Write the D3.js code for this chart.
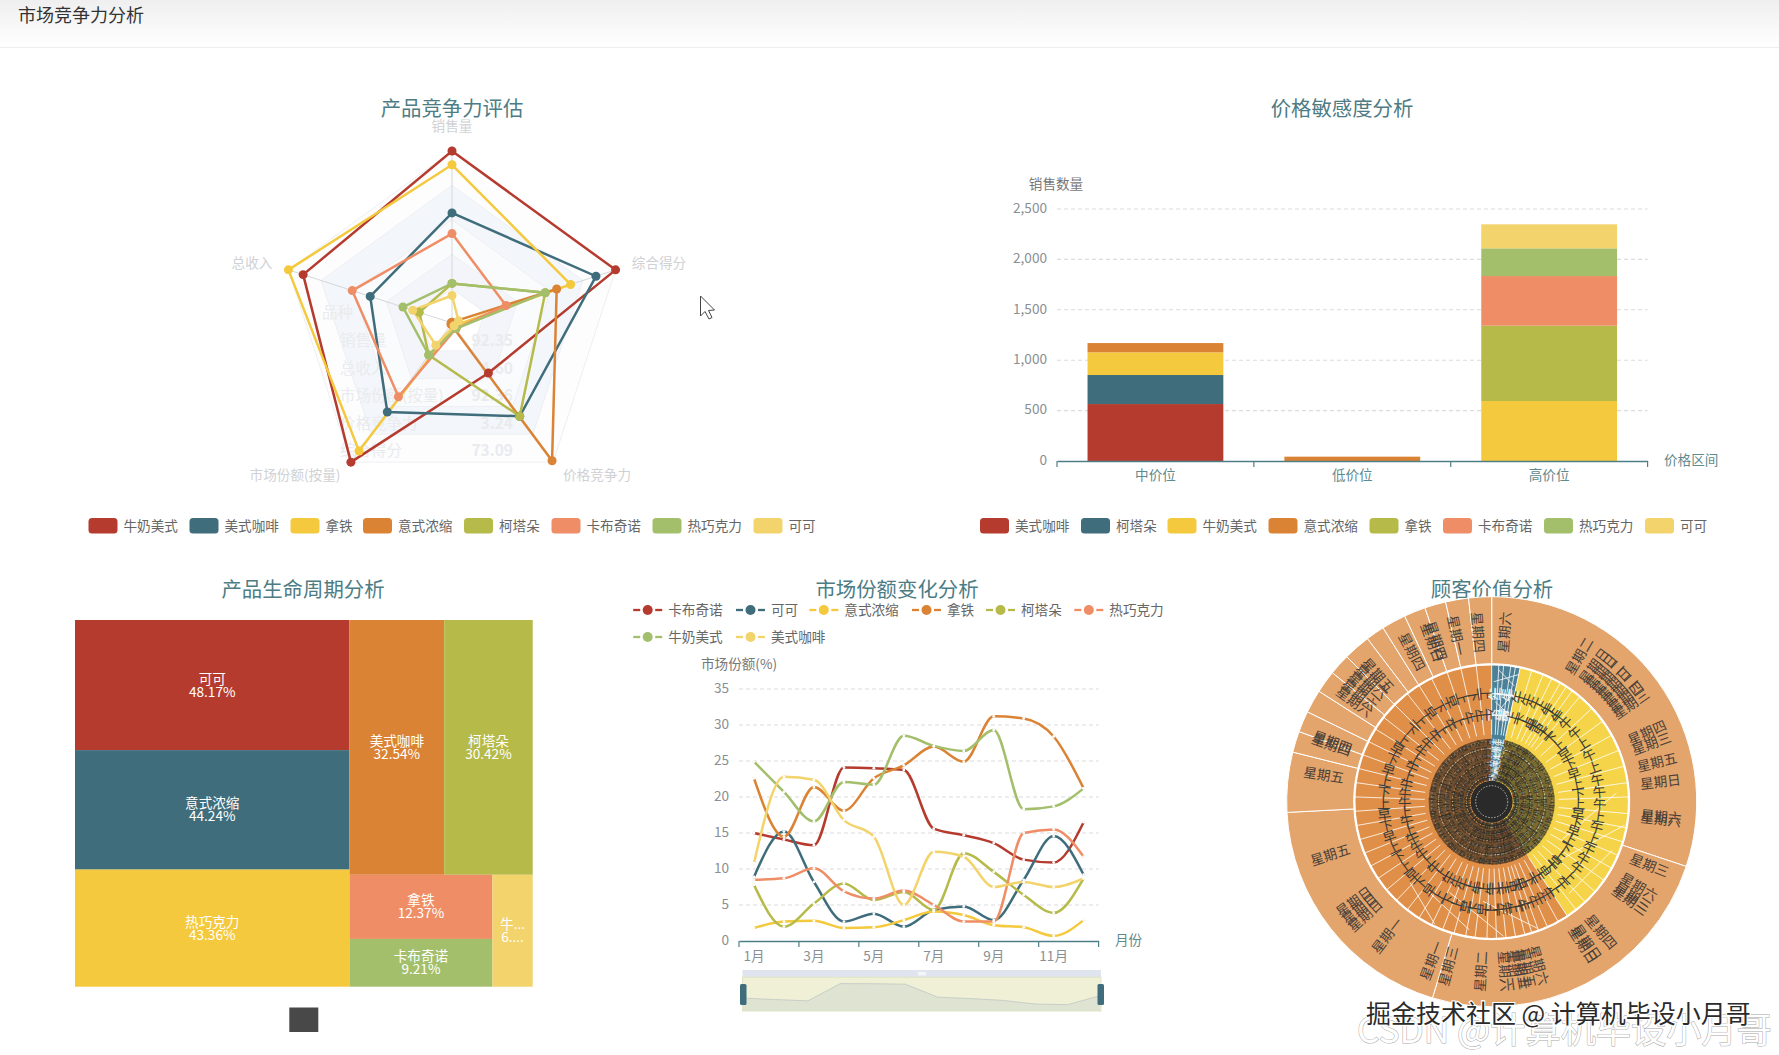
<!DOCTYPE html>
<html><head><meta charset="utf-8">
<script src="https://cdn.jsdelivr.net/npm/d3@7/dist/d3.min.js"></script>
<style>
html,body{margin:0;padding:0;background:#fff;overflow:hidden}
svg{display:block;font-family:"Noto Sans CJK SC","Noto Sans",sans-serif}
text{dominant-baseline:central}
</style></head><body><svg id="c" width="1779" height="1055"></svg>
<script>
// ---------- palette
const palette = ["#b53b2e","#3f6d7b","#f4c93d","#db8334","#b5ba49","#ef8e66","#a4bf6b","#f3d36b"];
// ---------- radar
const radarAxes = ["销售量","综合得分","价格竞争力","市场份额(按量)","总收入"];
const radarNames = ["牛奶美式","美式咖啡","拿铁","意式浓缩","柯塔朵","卡布奇诺","热巧克力","可可"];
const radarMilk = [100,100,36,100,91];
const radarAmericano = [64,88,67,64,50];
const radarLatte = [92,72.5,2,92,100];
const radarEspresso = [0.5,64,99,1,0.5];
const radarCortado = [23,57,67,23,20];
const radarCappuccino = [52,33,4,53,61];
const radarChocolate = [23,57,4,23,30];
const radarCocoa = [16,4,2,16,24];
const radarGhostKeys = ["销售量","总收入","市场份额(按量)","价格竞争力","综合得分"];
const radarGhostVals = ["92.35","4.60","92.36","3.24","73.09"];
// ---------- stacked bar
const barCats = ["中价位","低价位","高价位"];
const barNames = ["美式咖啡","柯塔朵","牛奶美式","意式浓缩","拿铁","卡布奇诺","热巧克力","可可"];
const barAmericano = [565,0,0];
const barCortado = [288,0,0];
const barMilk = [225,0,595];
const barEspresso = [92,43,0];
const barLatte = [0,0,747];
const barCappuccino = [0,0,493];
const barChocolate = [0,0,275];
const barCocoa = [0,0,238];
// ---------- treemap
const treeNames = ["可可","意式浓缩","热巧克力","美式咖啡","柯塔朵","拿铁","卡布奇诺","牛奶美式"];
const treeValues = [48.17,44.24,43.36,32.54,30.42,12.37,9.21,6.08];
// ---------- lines
const months = ["1月","2月","3月","4月","5月","6月","7月","8月","9月","10月","11月","12月"];
const lineNames = ["卡布奇诺","可可","意式浓缩","拿铁","柯塔朵","热巧克力","牛奶美式","美式咖啡"];
const lineCappuccino = [15,14.1,13.3,24.1,24,23.75,15.6,14.7,13.6,11.3,10.9,16.5];
const lineCocoa = [8.9,15.2,8.2,2.7,3.8,2,4.3,4.8,2.9,8.5,14.6,9.2];
const lineEspresso = [1.8,2.7,2.8,1.8,1.9,2.9,4.1,3.6,2.2,1.9,0.7,2.9];
const lineLatte = [22.6,14.5,21.4,18.1,22.6,24.4,27,24.9,31.2,30.9,28.4,21.2];
const lineCortado = [7.8,2,5.2,8,5.7,6.8,4.3,12.2,9.6,6.4,3.9,8.7];
const lineChocolate = [8.5,8.7,10.1,6.9,5.9,7,5,2.7,2.7,15,15.5,11.7];
const lineMilk = [24.9,20.7,16.6,22.1,21.7,28.5,27.1,26.4,29.3,18.3,18.7,21.2];
const lineAmericano = [10.8,22.8,22.4,16.8,14.5,5,12.4,11.7,7.5,8.2,7.5,8.7];
// ---------- sunburst
const sunTop = [{name:"teal",from:0,to:12,color:"#4a8198"},{name:"yellow",from:12,to:146.5,color:"#f5d44a"},{name:"orange",from:146.5,to:360,color:"#e08f48"}];
const midCuts = [0,3,5,8,10,12,17,22,26,30,33,36,40,47,54,61,68,75,82,88,95,101,107,113,119,125,131,137,142,146.5,151,156,160,163,166,170,174,178,182,187,191,196,201,206,212,218,224,230,236,242,248,254,260,266,272,278,284,290,296,302,308,315,322,328,334,341,347,353.5,360];
const outerCuts = [0,108.4,196.8,267,284,290,296,302.6,309,315,322.7,328,334.9,341,347,353.5,360];
const outerDays = ["星期六","星期二","星期日","星期日","星期二","星期日","星期二","星期四","星期三","星期四","星期三","星期五","星期日","星期六","星期六","星期三","星期六","星期三","星期三","星期四","星期日","星期日","星期六","星期五","星期五","星期二","星期六","星期二","星期三","星期一","星期一","星期日","星期日","星期日","星期五","星期五","星期四","星期四","星期六","星期六","星期一","星期六","星期五","星期四","星期日","星期四","星期一","星期四"];
const outerAngles = [4.3,31,37,40,43,46,49,52,55,66,70,76.6,83.3,95,96,112,120,124,125.5,140,146,147.5,164,168,170,172,175.6,183.6,194.8,200.7,218,228,231,234,251.8,279,289.5,290.5,306,309,312,315,318,332,339.5,341,348,355.4];
const timeLabels = ["下午","上午","早上","下午","早上","上午"];
const innerRingRadii = [56,42,28];
const dottedRingRadii = [60,53,46,39,32,25];
const chords = [[3,132,11,118],[1,120,12,130],[2,100,10,90],[4,90,11,110],[86,125,118,80],[100,135,130,90],[112,130,140,120],[160,135,185,100],[175,135,205,100],[190,130,215,110],[205,135,225,115]];

const svg = d3.select("#c");
const color = i => palette[i];
const titleColor="#4d7c84", legendText="#666", tickGrey="#8a8f93", axisTeal="#4f7f86", labelTeal="#5f8a8e";
const defs = svg.append("defs");
const hg = defs.append("linearGradient").attr("id","hg").attr("x1",0).attr("x2",0).attr("y1",0).attr("y2",1);
hg.append("stop").attr("offset",0).attr("stop-color","#efefef");
hg.append("stop").attr("offset",1).attr("stop-color","#ffffff");
svg.append("rect").attr("width",1779).attr("height",47).attr("fill","url(#hg)");
svg.append("line").attr("x1",0).attr("x2",1779).attr("y1",47.5).attr("y2",47.5).attr("stroke","#eeeeee");
svg.append("text").attr("x",18).attr("y",15).attr("font-size",18).attr("fill","#333").text("市场竞争力分析");

function title(t,x,y){svg.append("text").attr("x",x).attr("y",y).attr("text-anchor","middle").attr("font-size",20.4).attr("fill",titleColor).text(t);}
title("产品竞争力评估",452,108);title("价格敏感度分析",1342,108);title("产品生命周期分析",303,589);title("市场份额变化分析",897,589);title("顾客价值分析",1492,589);

function rectLegend(names,xs,y){
  const g=svg.append("g");
  names.forEach((n,i)=>{
    g.append("rect").attr("x",xs[i]).attr("y",y-7.5).attr("width",29).attr("height",15.5).attr("rx",3.5).attr("fill",color(i));
    g.append("text").attr("x",xs[i]+35).attr("y",y).attr("font-size",13.6).attr("fill",legendText).text(n);
  });
}

// ---------- RADAR
(function(){
  const cx=452,cy=323,R=172;
  const g=svg.append("g").attr("transform",`translate(${cx},${cy})`);
  const r=d3.scaleLinear().domain([0,100]).range([0,R]);
  const ang=d3.scalePoint().domain(radarAxes).range([0,2*Math.PI*4/5]);
  const ringLine=d3.lineRadial().curve(d3.curveLinearClosed);
  const ringFills=["#fdfdfe","#f3f6fa","#fafbfc","#f3f5fa","#ffffff"];
  [100,80,60,40,20].forEach((v,i)=>{
    g.append("path").attr("d",ringLine(radarAxes.map(a=>[ang(a),r(v)]))).attr("fill",ringFills[i]).attr("stroke","#eeeff2");
  });
  radarAxes.forEach(a=>{
    const p=d3.pointRadial(ang(a),R);
    g.append("line").attr("x2",p[0]).attr("y2",p[1]).attr("stroke","#d5d7dc");
  });
  const gh=svg.append("g").attr("font-size",15.5).attr("fill","#e9ebee");
  gh.append("text").attr("x",322).attr("y",312).text("品种");
  const ghostY=d3.scalePoint().domain(radarGhostKeys).range([340,450]);
  radarGhostKeys.forEach((k,i)=>{
    gh.append("text").attr("x",340).attr("y",ghostY(k)).text(k);
    gh.append("text").attr("x",513).attr("y",ghostY(k)).attr("text-anchor","end").attr("font-weight",700).text(radarGhostVals[i]);
  });
  const labelPos=[[452,126],[659,263],[597,475],[295,475],[252,263]];
  radarAxes.forEach((a,i)=>svg.append("text").attr("x",labelPos[i][0]).attr("y",labelPos[i][1]).attr("text-anchor","middle").attr("font-size",13.6).attr("fill","#cfd1d4").text(a));
  const series=[radarMilk,radarAmericano,radarLatte,radarEspresso,radarCortado,radarCappuccino,radarChocolate,radarCocoa];
  const gg=svg.append("g").attr("transform",`translate(${cx},${cy})`);
  series.forEach((vals,i)=>{
    gg.append("path").attr("d",ringLine(vals.map((v,k)=>[ang(radarAxes[k]),r(v)]))).attr("fill","none").attr("stroke",color(i)).attr("stroke-width",2.5);
  });
  series.forEach((vals,i)=>{
    vals.forEach((v,k)=>{const p=d3.pointRadial(ang(radarAxes[k]),r(v));
      gg.append("circle").attr("cx",p[0]).attr("cy",p[1]).attr("r",4.5).attr("fill",color(i));});
  });
  rectLegend(radarNames,[88.5,189.5,290.5,363,464,551.5,652.5,753.5],525.5);
  svg.append("path").attr("d","M700.5 296 L700.5 316 L705 311.5 L709 319 L712 317.5 L708.5 310.5 L714.5 310 Z").attr("fill","#fff").attr("stroke","#444").attr("stroke-width",1);
})();

// ---------- STACKED BAR
(function(){
  const L=1057,Rt=1647.6,T=209,B=461;
  const x=d3.scaleBand().domain(barCats).range([L,Rt]).paddingInner(0);
  const y=d3.scaleLinear().domain([0,2500]).range([B,T]);
  const rows=barCats.map((c,i)=>({cat:c,"美式咖啡":barAmericano[i],"柯塔朵":barCortado[i],"牛奶美式":barMilk[i],"意式浓缩":barEspresso[i],"拿铁":barLatte[i],"卡布奇诺":barCappuccino[i],"热巧克力":barChocolate[i],"可可":barCocoa[i]}));
  const st=d3.stack().keys(barNames)(rows);
  const ga=svg.append("g").attr("transform",`translate(${L},0)`);
  ga.call(d3.axisLeft(y).tickValues([0,500,1000,1500,2000,2500]).tickFormat(d3.format(",")).tickSize(0).tickPadding(10));
  ga.select(".domain").remove();
  ga.selectAll("text").attr("font-size",13.6).attr("fill",tickGrey).attr("font-family",'"Noto Sans CJK SC"').attr("dy",null).attr("y",-1.7);
  const grid=svg.append("g");
  y.ticks(5).filter(v=>v>0).forEach(v=>grid.append("line").attr("x1",L).attr("x2",Rt).attr("y1",y(v)).attr("y2",y(v)).attr("stroke","#dcdcdc").attr("stroke-width",1.1).attr("stroke-dasharray","4 3"));
  const bw=135.8;
  st.forEach((s,i)=>{
    svg.append("g").attr("fill",color(i)).selectAll("rect").data(s.filter(d=>d[1]>d[0])).join("rect")
      .attr("x",d=>x(d.data.cat)+(x.bandwidth()-bw)/2).attr("width",bw)
      .attr("y",d=>y(d[1])).attr("height",d=>y(d[0])-y(d[1]));
  });
  const gx=svg.append("g").attr("transform",`translate(0,${B})`);
  gx.call(d3.axisBottom(x).tickSize(0).tickPadding(8));
  gx.select(".domain").attr("stroke",axisTeal).attr("stroke-width",1.3);
  gx.selectAll("text").attr("font-size",13.6).attr("fill",labelTeal).attr("font-family",'"Noto Sans CJK SC"').attr("dy",null).attr("y",14);
  barCats.forEach(c=>gx.append("line").attr("x1",x(c)).attr("x2",x(c)).attr("y2",6).attr("stroke",axisTeal).attr("stroke-width",1.2));
  gx.append("line").attr("x1",Rt).attr("x2",Rt).attr("y2",6).attr("stroke",axisTeal).attr("stroke-width",1.2);
  svg.append("text").attr("x",1056).attr("y",184).attr("text-anchor","middle").attr("font-size",13.6).attr("fill","#777").text("销售数量");
  svg.append("text").attr("x",1664).attr("y",459.5).attr("font-size",13.6).attr("fill",labelTeal).text("价格区间");
  rectLegend(barNames,[980,1081,1167.5,1268.5,1369.5,1443,1544,1645],525.5);
})();

// ---------- TREEMAP
(function(){
  const leaf=i=>({name:treeNames[i],value:treeValues[i],idx:i});
  const tree={children:[
    {children:[leaf(0),leaf(1),leaf(2)]},
    {children:[
      {children:[leaf(3),leaf(4)]},
      {children:[{children:[leaf(5),leaf(6)]},leaf(7)]}
    ]}
  ]};
  const root=d3.hierarchy(tree).sum(d=>d.value||0);
  d3.treemap().tile(d3.treemapSliceDice).size([457.7,366.7]).round(false)(root);
  const g=svg.append("g").attr("transform","translate(75,620)");
  const ctx=document.createElement("canvas").getContext("2d");ctx.font='13.6px "Noto Sans CJK SC"';
  const fit=(s,w)=>ctx.measureText(s).width<=w?s:s.slice(0,1)+(/^\d/.test(s)?"....":"...");
  root.leaves().forEach(n=>{
    g.append("rect").attr("x",n.x0).attr("y",n.y0).attr("width",n.x1-n.x0).attr("height",n.y1-n.y0).attr("fill",color(n.data.idx));
    const cx=(n.x0+n.x1)/2,cy=(n.y0+n.y1)/2,w=n.x1-n.x0-8;
    const t=g.append("text").attr("x",cx).attr("y",cy-6.5).attr("text-anchor","middle").attr("font-size",13.6).attr("fill","#fff");
    t.append("tspan").attr("x",cx).text(fit(n.data.name,w));
    t.append("tspan").attr("x",cx).attr("dy",13).text(fit(n.data.value.toFixed(2)+"%",w));
  });
  svg.append("rect").attr("x",289.3).attr("y",1007.5).attr("width",29).attr("height",24.5).attr("fill","#484848");
})();

// ---------- LINES
(function(){
  const L=739,Rt=1098.6,T=689,B=941;
  const x=d3.scaleBand().domain(months).range([L,Rt]);
  const y=d3.scaleLinear().domain([0,35]).range([B,T]);
  const ya=svg.append("g").attr("transform",`translate(${L},0)`);
  ya.call(d3.axisLeft(y).ticks(7).tickSize(0).tickPadding(10));
  ya.select(".domain").remove();
  ya.selectAll("text").attr("font-size",13.6).attr("fill",tickGrey).attr("font-family",'"Noto Sans CJK SC"').attr("dy",null).attr("y",-1.7);
  y.ticks(7).filter(v=>v>0).forEach(v=>svg.append("line").attr("x1",L).attr("x2",Rt).attr("y1",y(v)).attr("y2",y(v)).attr("stroke","#dcdcdc").attr("stroke-width",1.1).attr("stroke-dasharray","4 3"));
  const series=[lineCappuccino,lineCocoa,lineEspresso,lineLatte,lineCortado,lineChocolate,lineMilk,lineAmericano];
  const line=d3.line().x((d,i)=>x(months[i])+x.bandwidth()/2).y(d=>y(d)).curve(d3.curveMonotoneX);
  series.forEach((s,i)=>svg.append("path").attr("d",line(s)).attr("fill","none").attr("stroke",color(i)).attr("stroke-width",2.5).attr("stroke-linecap","round"));
  series.forEach((s,i)=>s.forEach((v,k)=>svg.append("circle").attr("cx",x(months[k])+x.bandwidth()/2).attr("cy",y(v)).attr("r",1.4).attr("fill","#fff")));
  const gx=svg.append("g").attr("transform",`translate(0,${B})`);
  const shown=months.filter((m,i)=>i%2===0);
  gx.call(d3.axisBottom(x).tickValues(shown).tickSize(0).tickPadding(8));
  gx.select(".domain").attr("stroke",axisTeal).attr("stroke-width",1.3);
  gx.selectAll("text").attr("font-size",13.6).attr("fill",tickGrey).attr("font-family",'"Noto Sans CJK SC"').attr("dy",null).attr("y",15);
  shown.forEach(m=>gx.append("line").attr("x1",x(m)).attr("x2",x(m)).attr("y2",6).attr("stroke",axisTeal).attr("stroke-width",1.2));
  gx.append("line").attr("x1",Rt).attr("x2",Rt).attr("y2",6).attr("stroke",axisTeal).attr("stroke-width",1.2);
  svg.append("text").attr("x",739).attr("y",664).attr("text-anchor","middle").attr("font-size",13.6).attr("fill","#777").text("市场份额(%)");
  svg.append("text").attr("x",1115).attr("y",940).attr("font-size",13.6).attr("fill",labelTeal).text("月份");
  const lx=[633.2,736,809.3,912,986,1074.3,633.2,736], ly=[610,610,610,610,610,610,637,637];
  lineNames.forEach((n,i)=>{
    const g=svg.append("g").attr("transform",`translate(${lx[i]},${ly[i]})`);
    g.append("line").attr("x1",0).attr("x2",7).attr("stroke",color(i)).attr("stroke-width",2.3);
    g.append("line").attr("x1",22).attr("x2",29).attr("stroke",color(i)).attr("stroke-width",2.3);
    g.append("circle").attr("cx",14.5).attr("r",5).attr("fill",color(i));
    g.append("text").attr("x",35).attr("font-size",13.6).attr("fill",legendText).text(n);
  });
  const dzL=742.5,dzR=1101,dzT=977.3,dzB=1011;
  svg.append("rect").attr("x",dzL).attr("y",970).attr("width",dzR-dzL).attr("height",7.3).attr("fill","#dfe4ee");
  svg.append("rect").attr("x",918).attr("y",972).attr("width",8).attr("height",3.5).attr("fill","#f4f5f8");
  svg.append("rect").attr("x",dzL).attr("y",dzT).attr("width",dzR-dzL).attr("height",dzB-dzT).attr("fill","#eff0d6");
  const sx=d3.scalePoint().domain(months).range([743,1100]);
  const ext=d3.extent(lineCappuccino),rg=ext[1]-ext[0];
  const sy=d3.scaleLinear().domain([ext[0]-.3*rg,ext[1]+.3*rg]).range([dzB,dzT]);
  svg.append("path").attr("d",d3.area().x((d,i)=>sx(months[i])).y0(dzB).y1(d=>sy(d))(lineCappuccino)).attr("fill","#dfe3d1").attr("stroke","none");
  svg.append("path").attr("d",d3.line().x((d,i)=>sx(months[i])).y(d=>sy(d))(lineCappuccino)).attr("fill","none").attr("stroke","#c9cfc8");
  svg.append("rect").attr("x",dzL).attr("y",dzT).attr("width",dzR-dzL).attr("height",dzB-dzT).attr("fill","none").attr("stroke","#dfe4c6");
  [740,1097.5].forEach(v=>svg.append("rect").attr("x",v).attr("y",984).attr("width",6.5).attr("height",21).attr("rx",1.5).attr("fill","#3f6d7b"));
})();

// ---------- SUNBURST
(function(){
  const cx=1491.7,cy=801.7;
  const g=svg.append("g").attr("transform",`translate(${cx},${cy})`);
  const a=d3.scaleLinear().domain([0,360]).range([0,2*Math.PI]);
  const r=d3.scaleLinear().domain([0,1]).range([0,205]);
  const R1=137/205;
  const arc=d3.arc();
  sunTop.forEach(s=>{
    g.append("path").attr("d",arc({innerRadius:0,outerRadius:r(R1),startAngle:a(s.from),endAngle:a(s.to)})).attr("fill",s.color);
  });
  const topAt=d=>sunTop.find(s=>d>=s.from&&d<s.to)||sunTop[2];
  d3.pairs(outerCuts).forEach(([f,t])=>{
    g.append("path").attr("d",arc({innerRadius:r(R1)+1,outerRadius:r(1),startAngle:a(f),endAngle:a(t)})).attr("fill","#e3a56c").attr("stroke","#fff").attr("stroke-width",1);
  });
  g.append("circle").attr("r",r(R1)).attr("fill","none").attr("stroke","#fff").attr("stroke-width",1.6);
  midCuts.slice(0,-1).forEach(d=>{
    const p0=d3.pointRadial(a(d),67),p1=d3.pointRadial(a(d),r(R1));
    g.append("line").attr("x1",p0[0]).attr("y1",p0[1]).attr("x2",p1[0]).attr("y2",p1[1]).attr("stroke","#fff").attr("stroke-width",1).attr("stroke-opacity",.8);
  });
  chords.forEach(c=>{
    const p0=d3.pointRadial(a(c[0]),c[1]),p1=d3.pointRadial(a(c[2]),c[3]);
    g.append("line").attr("x1",p0[0]).attr("y1",p0[1]).attr("x2",p1[0]).attr("y2",p1[1]).attr("stroke","#fff").attr("stroke-width",1).attr("stroke-opacity",.8);
  });
  const radial=(sel,deg,rad)=>{
    const p=d3.pointRadial(a(deg),rad);
    const rot=deg<180?deg-90:deg+90-360;
    sel.attr("transform",`translate(${p[0]},${p[1]}) rotate(${rot})`).attr("text-anchor","middle");
  };
  // darkened zone where the inner labels pile on each other (teal wedge stays open)
  g.append("path").attr("d",arc({innerRadius:22,outerRadius:63,startAngle:a(12),endAngle:a(360)})).attr("fill","#2e2a22").attr("fill-opacity",.62);
  dottedRingRadii.forEach(rad=>{
    g.append("path").attr("d",arc({innerRadius:rad,outerRadius:rad,startAngle:a(12),endAngle:a(360)})).attr("fill","none").attr("stroke","#efe3c0").attr("stroke-width",1.4).attr("stroke-dasharray","1.4 2.4").attr("stroke-opacity",.7);
  });
  const mids=d3.pairs(midCuts).map(([f,t])=>(f+t)/2);
  mids.forEach((d,i)=>{
    const t=g.append("text").attr("font-size",13.6).attr("letter-spacing",7.4).attr("x",3.7).attr("fill",topAt(d).name==="teal"?"#f2f6f8":"#3a3a36").text(timeLabels[i%timeLabels.length]);
    radial(t,d,97.5);
  });
  innerRingRadii.forEach((rad,ri)=>{
    mids.forEach((d,i)=>{
      const t=g.append("text").attr("font-size",7.5).attr("fill",topAt(d).name==="teal"?"#f2f6f8":"#2f2c26").text(timeLabels[(i+ri+1)%timeLabels.length]);
      radial(t,d,rad);
    });
  });
  g.append("circle").attr("r",21).attr("fill","#2a2a2a");
  g.append("circle").attr("r",16).attr("fill","none").attr("stroke","#d8d8d0").attr("stroke-width",.8).attr("stroke-dasharray","1.5 1.5");
  outerDays.forEach((n,i)=>{
    const t=g.append("text").attr("font-size",13.6).attr("fill","#4a4038").text(n);
    radial(t,outerAngles[i],170);
  });
})();

// ---------- watermarks
svg.append("text").attr("x",1357).attr("y",1028).attr("font-size",35.2).attr("fill","#fff").attr("stroke","#a9a9a9").attr("stroke-width",1).attr("paint-order","stroke").text("CSDN @计算机毕设小月哥");
svg.append("text").attr("x",1366).attr("y",1013).attr("font-size",25).attr("fill","#2a2a2a").attr("stroke","#fff").attr("stroke-width",2.2).attr("paint-order","stroke").text("掘金技术社区 @ 计算机毕设小月哥");

svg.selectAll("text").attr("dy",-1);
</script></body></html>
